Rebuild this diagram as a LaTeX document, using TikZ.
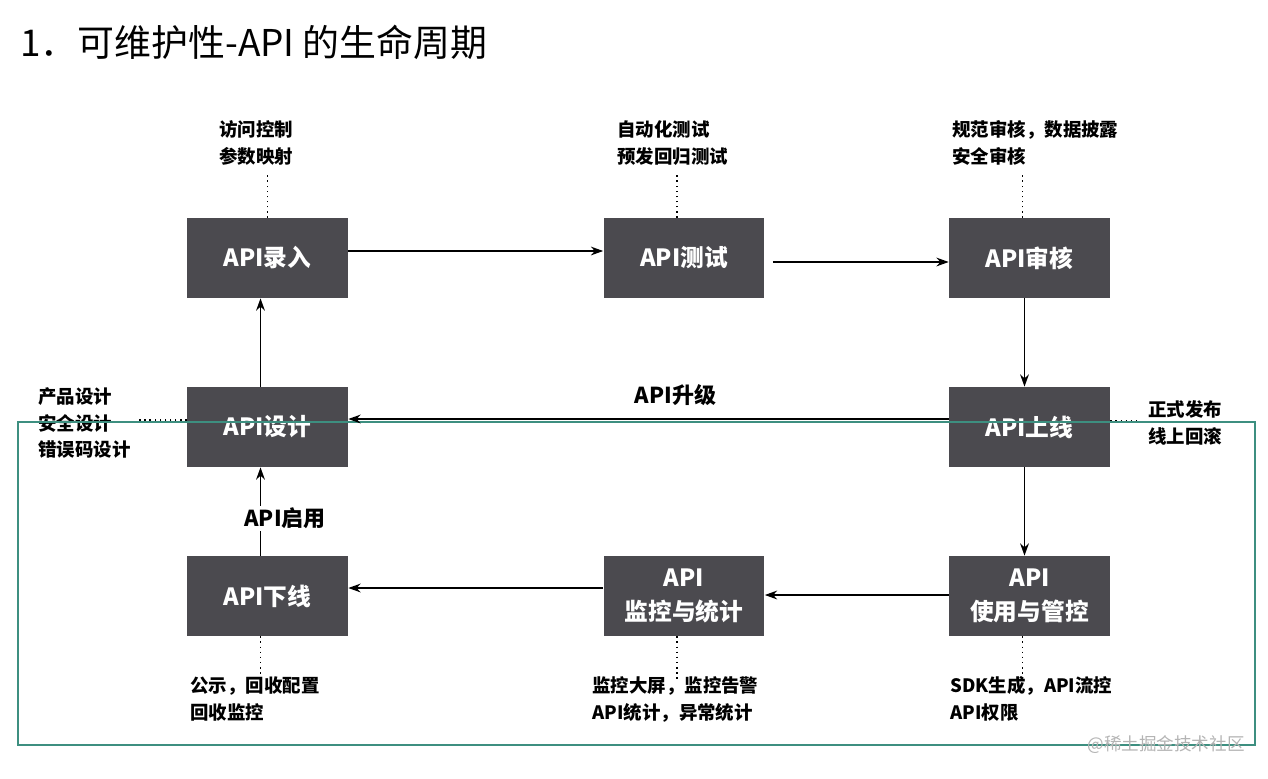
\documentclass[tikz,border=0pt]{standalone}
\usepackage{fontspec}
\setmainfont{Noto Sans CJK SC}
\usetikzlibrary{positioning, arrows.meta}
\definecolor{boxgray}{HTML}{4B4A4F}
\definecolor{frameteal}{HTML}{3D8F80}
\definecolor{markgray}{HTML}{B4B4B4}

\begin{document}
\begin{tikzpicture}[x=0.02cm, y=-0.02cm,
    box/.style={fill=boxgray, text=white, font=\bfseries\fontsize{13.5}{19}\selectfont,
        minimum width=3.22cm, minimum height=1.6cm, align=center, inner sep=0pt},
    note/.style={font=\bfseries\fontsize{10.5}{15.3}\selectfont, align=left, inner sep=0pt},
    flow/.style={-{Stealth[length=7pt, width=5pt]}, line width=0.8pt},
    hint/.style={dotted, line width=0.9pt}]
        \useasboundingbox (0,0) rectangle (1268,778);

        % Title
        \node[anchor=west, font=\fontsize{21}{26}\selectfont, inner sep=0pt] (title) at (20,42) {1．可维护性-API 的生命周期};

        % Stages
        \node[box] (entry)   at (267.5,258) {API录入};
        \node[box] (test)    at (684,258)   {API测试};
        \node[box] (review)  at (1029.5,258) {API审核};
        \node[box] (design)  at (267.5,427) {API设计};
        \node[box] (online)  at (1029.5,427) {API上线};
        \node[box] (offline) at (267.5,596) {API下线};
        \node[box] (monitor) at (684,596)   {API\\监控与统计};
        \node[box] (usage)   at (1029.5,596) {API\\使用与管控};

        % Notes
        \node[note, anchor=north west] (entrynote)   at (219,120)  {访问控制\\参数映射};
        \node[note, anchor=north west] (testnote)    at (617,120)  {自动化测试\\预发回归测试};
        \node[note, anchor=north west] (reviewnote)  at (952,120)  {规范审核，数据披露\\安全审核};
        \node[note, anchor=west]       (designnote)  at (38,423)   {产品设计\\安全设计\\错误码设计};
        \node[note, anchor=west]       (onlinenote)  at (1148,423) {正式发布\\线上回滚};
        \node[note, anchor=north west] (offlinenote) at (190,676)  {公示，回收配置\\回收监控};
        \node[note, anchor=north west] (monitornote) at (592,676)  {监控大屏，监控告警\\API统计，异常统计};
        \node[note, anchor=north west] (usagenote)   at (950,676)  {SDK生成，API流控\\API权限};

        % Dotted hints
        \draw[hint] (entry.north) -- ++(0,-43);
        \draw[hint] (test.north) ++(-7,0) -- ++(0,-43);
        \draw[hint] (review.north) ++(-7,0) -- ++(0,-43);
        \draw[hint] (design.west) ++(0,-7) -- ++(-49,0);
        \draw[hint] (online.east) ++(0,-6) -- ++(30,0);
        \draw[hint] (offline.south) ++(-7,0) -- ++(0,44);
        \draw[hint] (monitor.south) ++(-7,0) -- ++(0,44);
        \draw[hint] (usage.south) ++(-7,0) -- ++(0,44);

        % Frame and mark
        \draw[frameteal, line width=0.6pt] (18,422) rectangle (1255,745);
        \node[anchor=east, text=markgray, font=\fontsize{10}{12}\selectfont, inner sep=0pt] (mark) at (1245,745) {@稀土掘金技术社区};

        % Flow
        \draw[flow] (entry.east) ++(0,-7) coordinate (a) -- (a -| test.west);
        \draw[flow] (test.east) ++(8,4) coordinate (b) -- (b -| review.west);
        \draw[flow] (review.south) ++(-5,0) coordinate (c) -- (c |- online.north);
        \draw[flow] (online.west) ++(0,-8) coordinate (d) -- node[pos=0.455, above=7pt, font=\bfseries\fontsize{12.5}{15}\selectfont, inner sep=0pt] (upgrade) {API升级} (d -| design.east);
        \draw[flow] (online.south) ++(-5,0) coordinate (e) -- (e |- usage.north);
        \draw[flow] (usage.west) ++(0,-1) coordinate (f) -- (f -| monitor.east);
        \draw[flow] (monitor.west) ++(0,-8) coordinate (g) -- (g -| offline.east);
        \draw[flow] (offline.north) ++(-7,0) coordinate (up) -- node[pos=0.42, fill=white, xshift=14pt, font=\bfseries\fontsize{12.5}{15}\selectfont, inner sep=1pt] (enable) {API启用} (up |- design.south);
        \draw[flow] (design.north) ++(-7,0) coordinate (top) -- (top |- entry.south);
\end{tikzpicture}
\end{document}
